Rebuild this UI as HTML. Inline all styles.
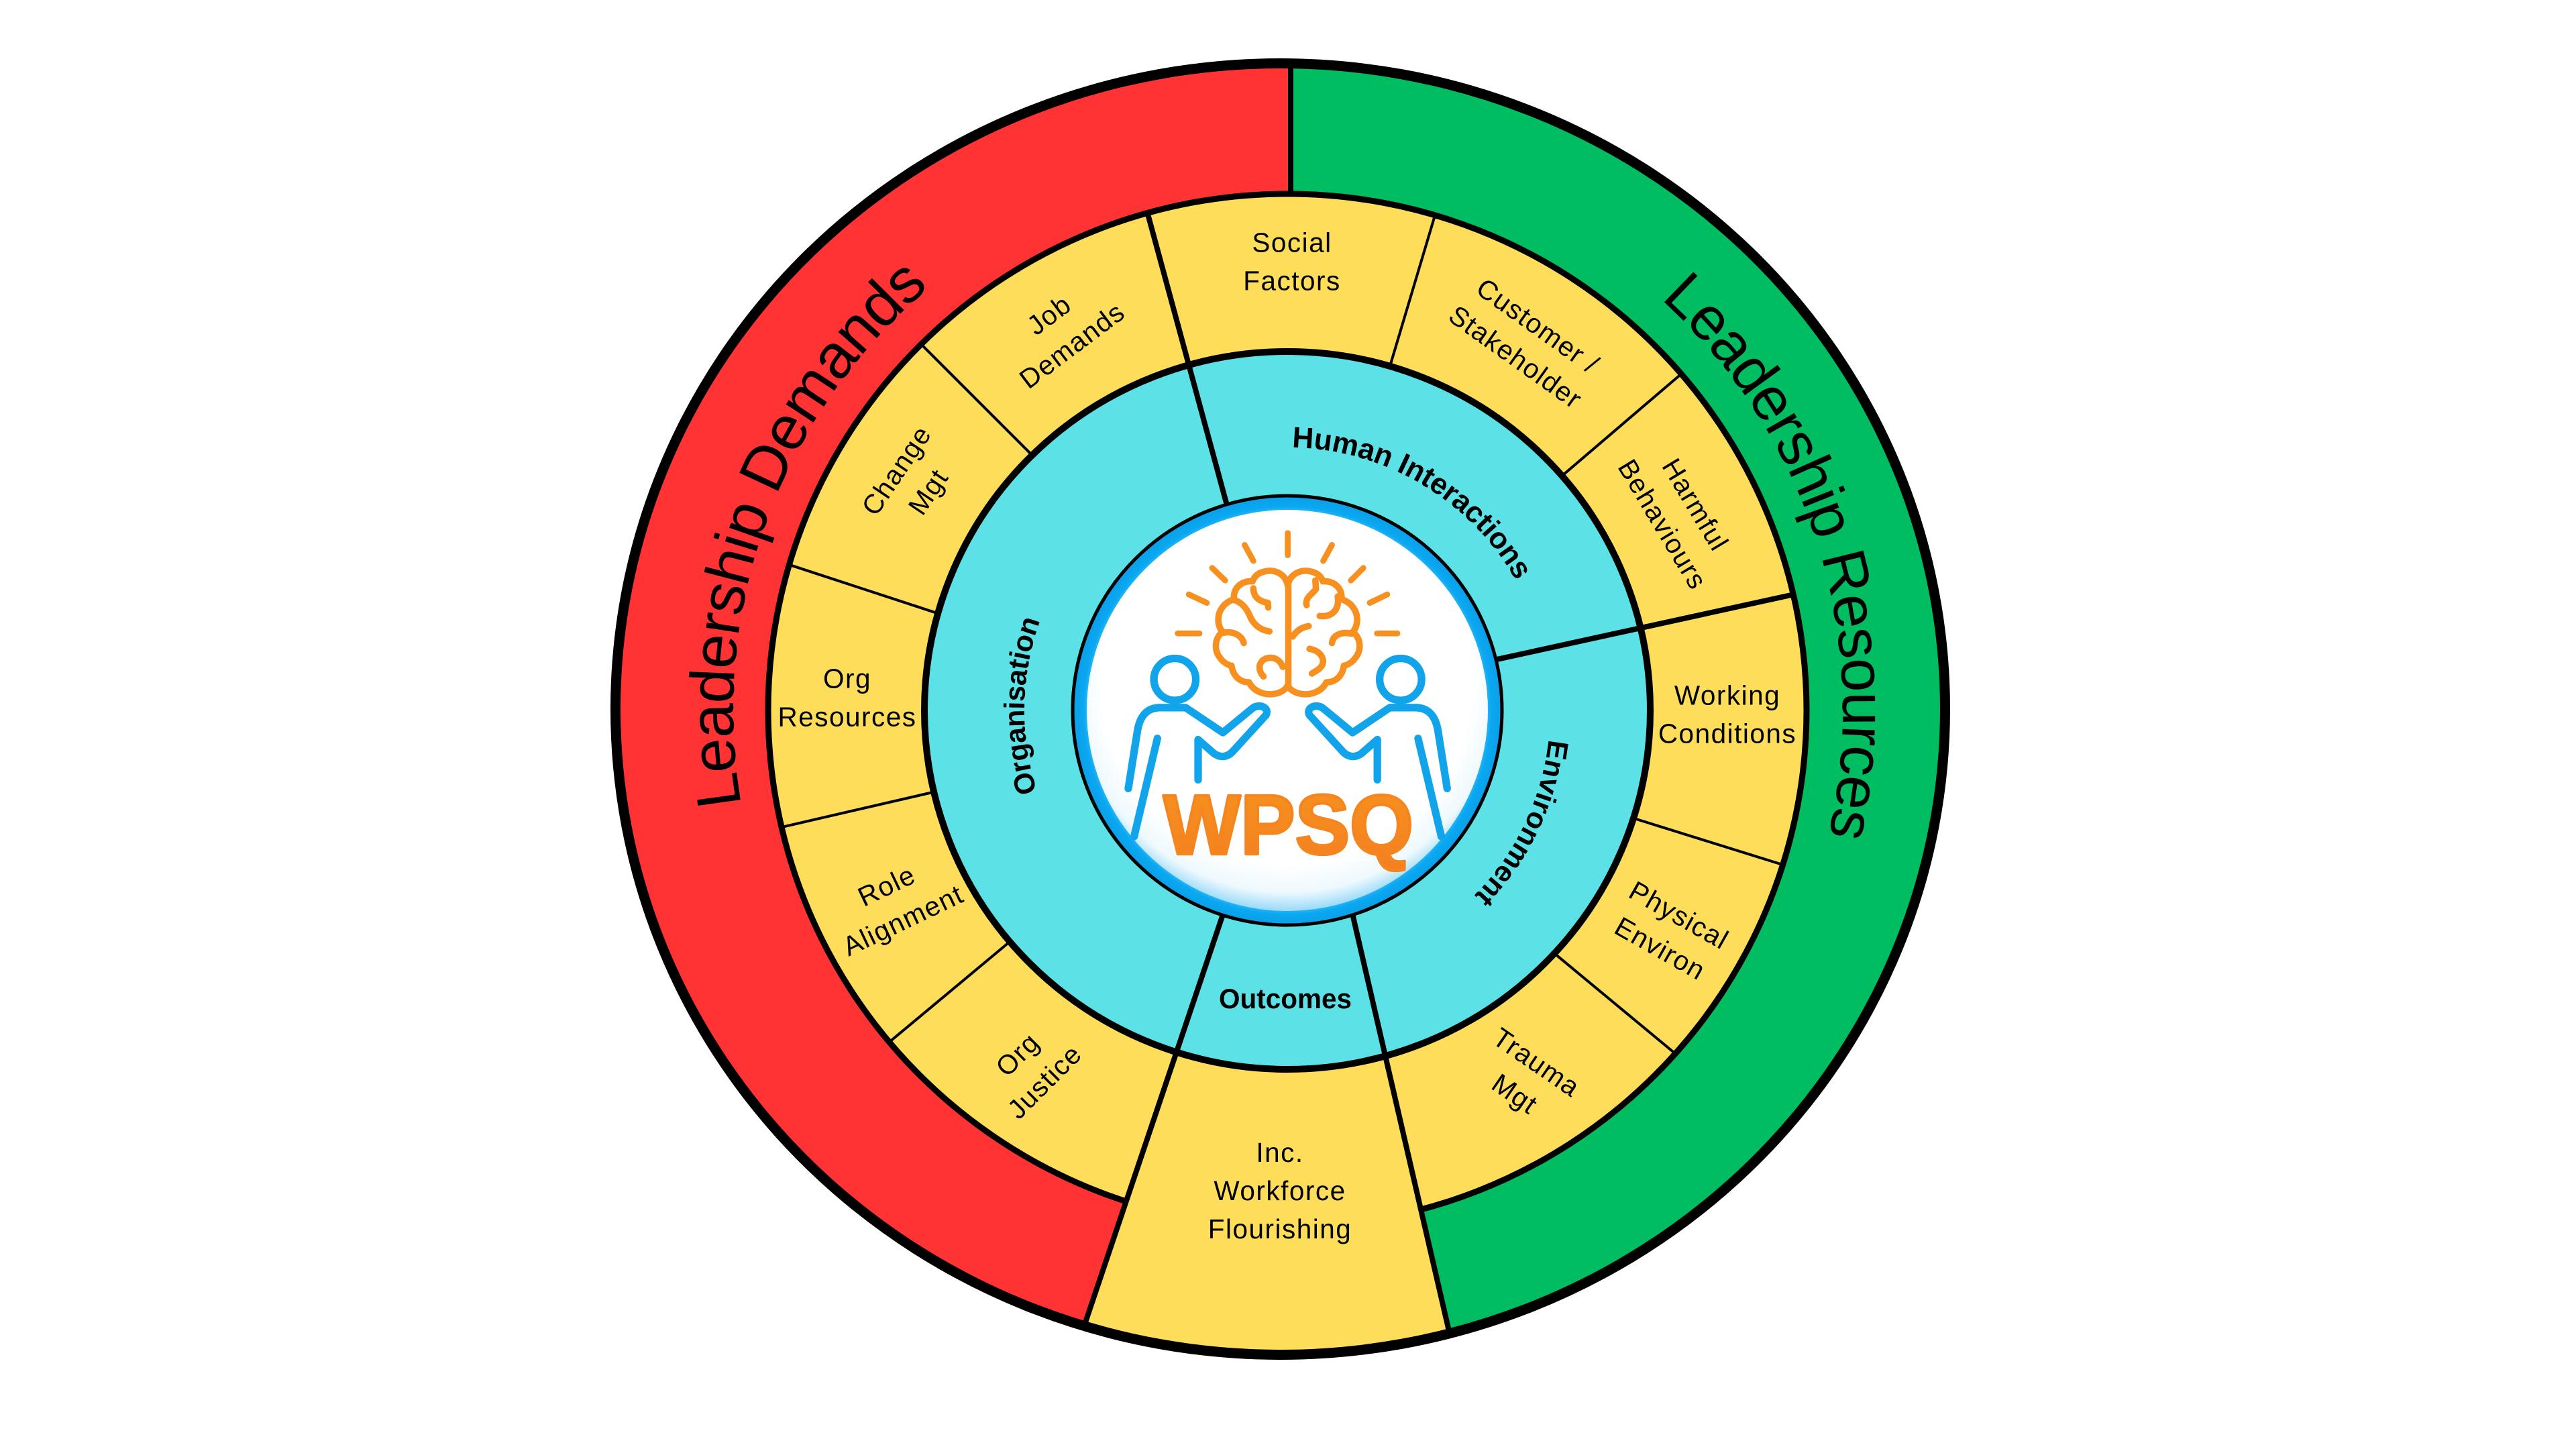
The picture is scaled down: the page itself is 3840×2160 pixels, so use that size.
<!DOCTYPE html>
<html>
<head>
<meta charset="utf-8">
<style>
html,body{margin:0;padding:0;background:#ffffff;}
svg{display:block;}
</style>
</head>
<body>
<svg width="3840" height="2160" viewBox="0 0 3840 2160" xmlns="http://www.w3.org/2000/svg">
<defs>
  <clipPath id="oc"><ellipse cx="1908.5" cy="1057" rx="991" ry="962.5"/></clipPath>
  <radialGradient id="glow" cx="50%" cy="42%" r="58%">
    <stop offset="0.80" stop-color="#ffffff"/>
    <stop offset="0.92" stop-color="#eef9fe"/>
    <stop offset="1" stop-color="#98daf8"/>
  </radialGradient>
  <radialGradient id="ringg" cx="50%" cy="50%" r="50%">
    <stop offset="0.90" stop-color="#5fcaf8"/>
    <stop offset="0.95" stop-color="#0aa8f2"/>
    <stop offset="1" stop-color="#0a9fe8"/>
  </radialGradient>
  <linearGradient id="og" x1="0" y1="0" x2="0" y2="1">
    <stop offset="0" stop-color="#F7931E"/>
    <stop offset="1" stop-color="#F47F20"/>
  </linearGradient>
  <path id="pLD" d="M1105.1,1199.6 A826,826 0 0 1 1503.5,345.1" fill="none"/>
  <path id="pLR" d="M2475.2,445.6 A828,828 0 0 1 2681.2,1382.5" fill="none"/>
  <path id="pHI" d="M1925.8,667.1 A392,392 0 0 1 2288.5,928.1" fill="none"/>
  <path id="pOR" d="M1546.2,1180.1 A392,392 0 0 1 1579.5,863" fill="none"/>
  <path id="pEN" d="M2308.6,1102.0 A392,392 0 0 1 2145.0,1379.3" fill="none"/>
</defs>

<rect width="3840" height="2160" fill="#ffffff"/>

<g clip-path="url(#oc)">
  <rect x="800" y="0" width="1124" height="2160" fill="#FF3333"/>
  <rect x="1924" y="0" width="1100" height="2160" fill="#00BD62"/>
  <ellipse cx="1919" cy="1059" rx="774" ry="770" fill="#FEDD5B" stroke="#000" stroke-width="9"/>
  <polygon points="1821,1370 1590,2060 2178,2060 2018,1370" fill="#FEDD5B"/>
  <ellipse cx="1919" cy="1059" rx="541" ry="535" fill="#5CE1E6"/>

  <g stroke="#000" stroke-width="4" stroke-linecap="butt">
    <line x1="2072.7" y1="543.4" x2="2139.6" y2="319.2"/>
    <line x1="2328.1" y1="709.6" x2="2506.0" y2="557.6"/>
    <line x1="2432.7" y1="1219.0" x2="2656.1" y2="1288.6"/>
    <line x1="2316.9" y1="1421.1" x2="2497.2" y2="1570.5"/>
    <line x1="1538.6" y1="678.6" x2="1373.1" y2="513.1"/>
    <line x1="1400.6" y1="915.2" x2="1178.0" y2="842.3"/>
    <line x1="1394.8" y1="1180.0" x2="1166.8" y2="1232.7"/>
    <line x1="1505.7" y1="1403.4" x2="1325.9" y2="1553.2"/>
  </g>
  <g stroke="#000" stroke-width="8" stroke-linecap="butt">
    <line x1="1829.2" y1="753.9" x2="1710.1" y2="315.8"/>
    <line x1="2228.0" y1="983.7" x2="2671.5" y2="886.7"/>
    <line x1="2016" y1="1362" x2="2178" y2="2062"/>
    <line x1="1822" y1="1366" x2="1588" y2="2060"/>
  </g>
  <ellipse cx="1919" cy="1059" rx="541" ry="535" fill="none" stroke="#000" stroke-width="10"/>
  <line x1="1924" y1="80" x2="1924" y2="290" stroke="#000" stroke-width="8"/>
</g>

<ellipse cx="1908.5" cy="1057" rx="991" ry="962.5" fill="none" stroke="#000" stroke-width="15"/>

<circle cx="1919" cy="1059" r="320" fill="url(#ringg)" stroke="#000" stroke-width="5"/>
<circle cx="1919" cy="1059" r="299" fill="url(#glow)"/>

<g transform="translate(1580 720) scale(0.4337)" fill="none" stroke-linecap="round" stroke-linejoin="round">
  <g stroke="#F7901E" stroke-width="20">
    <line x1="783" y1="172" x2="783" y2="248"/>
    <line x1="635" y1="213" x2="665" y2="268"/>
    <line x1="935" y1="213" x2="905" y2="268"/>
    <line x1="523" y1="292" x2="568" y2="335"/>
    <line x1="1043" y1="292" x2="1000" y2="335"/>
    <line x1="443" y1="383" x2="505" y2="412"/>
    <line x1="1125" y1="383" x2="1065" y2="412"/>
    <line x1="405" y1="517" x2="480" y2="517"/>
    <line x1="1090" y1="517" x2="1160" y2="517"/>
  </g>
  <g stroke="#F7901E" stroke-width="22">
    <path d="M783,352 C775,310 735,295 700,305 C680,310 668,322 662,338 C625,335 595,360 598,400 C565,410 540,440 545,480 C548,495 552,505 560,512 C532,530 528,575 550,600 C560,615 575,625 590,628 C595,665 620,685 650,685 C665,715 700,730 735,725 C760,722 778,708 783,695"/>
    <path d="M783,352 C791,310 831,295 866,305 C886,310 898,322 904,338 C941,335 971,360 968,400 C1001,410 1026,440 1021,480 C1018,495 1014,505 1006,512 C1034,530 1038,575 1016,600 C1006,615 991,625 976,628 C971,665 946,685 916,685 C901,715 866,730 831,725 C806,722 788,708 783,695"/>
    <line x1="785" y1="352" x2="785" y2="695"/>
    <path d="M665,362 C665,395 690,408 715,412 L716,428"/>
    <path d="M598,402 C625,410 642,432 652,455 C662,482 685,505 720,510"/>
    <path d="M562,515 C592,508 625,522 632,550"/>
    <path d="M700,665 C680,645 680,612 712,602 C738,596 758,610 766,632"/>
    <path d="M800,528 C815,505 835,495 855,492"/>
    <path d="M893,457 C930,462 962,440 955,390"/>
    <path d="M848,420 C842,392 868,382 880,365 L878,335"/>
    <path d="M935,550 C938,522 968,510 1004,518"/>
    <path d="M858,570 C890,575 912,600 902,625 C893,642 875,648 866,655"/>
  </g>
  <g stroke="#12A4EA" stroke-width="26">
    <g>
      <circle cx="395" cy="675" r="72"/>
      <path d="M235,1050 L266,855 C274,800 300,772 345,772 L432,772 L560,858 L662,774 C685,757 722,772 708,798 L592,925 C572,945 548,943 530,930 L475,882 L475,1020"/>
      <path d="M335,878 L255,1215"/>
    </g>
    <g transform="translate(1566 0) scale(-1 1)">
      <circle cx="395" cy="675" r="72"/>
      <path d="M235,1050 L266,855 C274,800 300,772 345,772 L432,772 L560,858 L662,774 C685,757 722,772 708,798 L592,925 C572,945 548,943 530,930 L475,882 L475,1020"/>
      <path d="M335,878 L255,1215"/>
    </g>
  </g>
  <text x="785" y="1275" font-family="Liberation Sans, Arial, sans-serif" font-weight="bold" font-size="292" text-anchor="middle" textLength="860" lengthAdjust="spacingAndGlyphs" fill="url(#og)" stroke="#F5851F" stroke-width="10" stroke-linejoin="round">WPSQ</text>
</g>

<text font-family="Liberation Sans, Arial, sans-serif" font-size="93" fill="#000">
  <textPath href="#pLD" textLength="859" lengthAdjust="spacing">Leadership Demands</textPath>
</text>
<text font-family="Liberation Sans, Arial, sans-serif" font-size="91" fill="#000">
  <textPath href="#pLR" textLength="879" lengthAdjust="spacing">Leadership Resources</textPath>
</text>

<g font-family="Liberation Sans, Arial, sans-serif" font-weight="bold" fill="#000">
  <text font-size="44"><textPath href="#pHI" textLength="407" lengthAdjust="spacing">Human Interactions</textPath></text>
  <text font-size="43"><textPath href="#pOR" textLength="260" lengthAdjust="spacing">Organisation</textPath></text>
  <text font-size="43"><textPath href="#pEN" textLength="263" lengthAdjust="spacing">Environment</textPath></text>
  <text x="1916" y="1503" font-size="42" text-anchor="middle" textLength="198" lengthAdjust="spacingAndGlyphs">Outcomes</text>
</g>

<g font-family="Liberation Sans, Arial, sans-serif" font-size="40.5" text-anchor="middle" fill="#000" letter-spacing="1.5">
  <text transform="translate(1926 390)"><tspan x="0" y="-14.5">Social</tspan><tspan x="0" y="42.5">Factors</tspan></text>
  <text transform="translate(2276 509) rotate(35.5)"><tspan x="0" y="-14.5">Customer /</tspan><tspan x="0" y="42.5">Stakeholder</tspan></text>
  <text transform="translate(2503 767) rotate(59)"><tspan x="0" y="-14.5">Harmful</tspan><tspan x="0" y="42.5">Behaviours</tspan></text>
  <text transform="translate(2575 1065)"><tspan x="0" y="-14.5">Working</tspan><tspan x="0" y="42.5">Conditions</tspan></text>
  <text transform="translate(2489 1389) rotate(29.5)"><tspan x="0" y="-14.5">Physical</tspan><tspan x="0" y="42.5">Environ</tspan></text>
  <text transform="translate(2274.5 1607) rotate(34.5)"><tspan x="0" y="-14.5">Trauma</tspan><tspan x="0" y="42.5">Mgt</tspan></text>
  <text transform="translate(1908 1775)"><tspan x="0" y="-43">Inc.</tspan><tspan x="0" y="14">Workforce</tspan><tspan x="0" y="71">Flourishing</tspan></text>
  <text transform="translate(1537 1592) rotate(-45)"><tspan x="0" y="-14.5">Org</tspan><tspan x="0" y="42.5">Justice</tspan></text>
  <text transform="translate(1334 1346) rotate(-25.5)"><tspan x="0" y="-14.5">Role</tspan><tspan x="0" y="42.5">Alignment</tspan></text>
  <text transform="translate(1263 1040)"><tspan x="0" y="-14.5">Org</tspan><tspan x="0" y="42.5">Resources</tspan></text>
  <text transform="translate(1360 717) rotate(-56)"><tspan x="0" y="-14.5">Change</tspan><tspan x="0" y="42.5">Mgt</tspan></text>
  <text transform="translate(1581 492) rotate(-37)"><tspan x="0" y="-14.5">Job</tspan><tspan x="0" y="42.5">Demands</tspan></text>
</g>
</svg>
</body>
</html>
